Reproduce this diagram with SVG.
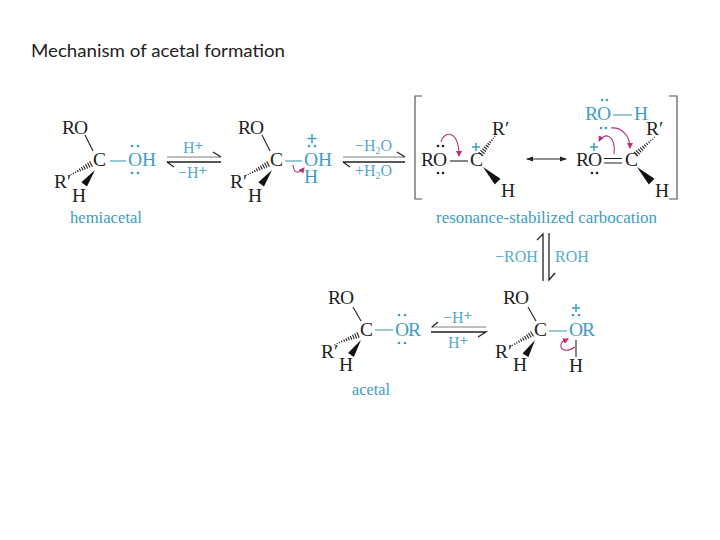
<svg xmlns="http://www.w3.org/2000/svg" width="720" height="540" viewBox="0 0 720 540">
<style>
text{font-family:"Liberation Serif",serif;font-size:19.500px;fill:#222}
.b{fill:#3c9dc4}
.l{font-size:16px;fill:#3c9dc4}
.s{font-size:16px;fill:#56a8c8}
.sup{font-size:15px;font-weight:bold}
.sub{font-size:10px}
.bond{stroke:#222;stroke-width:1.1;fill:none}
.bb{stroke:#3c9dc4;stroke-width:1.1;fill:none}
.plus{stroke:#3c9dc4;stroke-width:1.5;fill:none}
.dot{fill:#3c9dc4}
.k{fill:#222}
.gray{stroke:#aaa;stroke-width:1.6;fill:none}
.blk{stroke:#222;stroke-width:1.3;fill:none}
.cur{stroke:#b8307a;stroke-width:1.1;fill:none;marker-end:url(#c)}
</style>
<defs>
<marker id="c" markerWidth="7" markerHeight="7" refX="5" refY="3" orient="auto" markerUnits="userSpaceOnUse"><path d="M0 0L6 3L0 6Z" fill="#b8307a"/></marker>
<marker id="d" markerWidth="7" markerHeight="6" refX="6" refY="3" orient="auto-start-reverse" markerUnits="userSpaceOnUse"><path d="M0 0.500L7 3L0 5.500Z" fill="#222"/></marker>
<path id="w" d="M0 0L18 -3.500L18 3.500Z" fill="#111"/>
<path id="h" d="M0 -3V3M2.500 -2.700V2.700M5 -2.400V2.400M7.500 -2.100V2.100M10 -1.800V1.800M12.500 -1.500V1.500M15 -1.200V1.200M17.500 -0.900V0.900M20 -0.700V0.700M22.500 -0.500V0.500M25 -0.400V0.400" stroke="#222" stroke-width="1.100" fill="none"/>
</defs>
<text id="title" x="31" y="57" style="font-family:Lato,sans-serif;font-size:18px;fill:#222" textLength="254" lengthAdjust="spacingAndGlyphs">Mechanism of acetal formation</text>

<g id="hemiacetal">
<text x="62" y="134" textLength="26">RO</text><text x="93" y="166">C</text><text x="54" y="188">R′</text><text x="72" y="202">H</text>
<text class="b" x="128" y="166">OH</text>
<path class="bond" d="M85 135L93 151"/><path class="bb" d="M110 161H126"/>
<use href="#h" transform="translate(91 164) rotate(152)"/><use href="#w" transform="translate(95 170) rotate(127)"/>
<circle class="dot" cx="132" cy="146" r="1.300"/><circle class="dot" cx="138" cy="146" r="1.300"/><circle class="dot" cx="132" cy="173" r="1.300"/><circle class="dot" cx="138" cy="173" r="1.300"/>
<text class="l" x="70" y="223" textLength="72" lengthAdjust="spacingAndGlyphs">hemiacetal</text>
</g>

<g id="protonated">
<text x="238" y="134" textLength="26">RO</text><text x="270" y="166">C</text><text x="230" y="188">R′</text><text x="248" y="202">H</text>
<text class="b" x="304" y="166">OH</text><text class="b" x="304" y="183">H</text>
<path class="bond" d="M262 135L270 151"/><path class="bb" d="M285 161H302"/>
<use href="#h" transform="translate(268 164) rotate(152)"/><use href="#w" transform="translate(272 170) rotate(127)"/>
<path class="plus" d="M312 134V143M307.500 138.500H316.500"/>
<circle class="dot" cx="309" cy="146" r="1.300"/><circle class="dot" cx="315" cy="146" r="1.300"/>
<path class="cur" d="M293 165C294 175 300 173 304 168"/>
</g>

<g id="carbocation">
<text x="421" y="166" textLength="26">RO</text><text x="470" y="166">C</text><text x="492" y="135">R′</text><text x="501" y="197">H</text>
<path class="bond" d="M450 161H468"/>
<use href="#h" transform="translate(481 154) rotate(-52)"/><use href="#w" transform="translate(483 167) rotate(45) scale(1.150)"/>
<circle class="k" cx="438" cy="146" r="1.300"/><circle class="k" cx="443" cy="146" r="1.300"/><circle class="k" cx="438" cy="173" r="1.300"/><circle class="k" cx="443" cy="173" r="1.300"/>
<path class="plus" d="M476 143V151M472 147H480"/>
<path class="cur" d="M441 142C444 130 459 130 459 156"/>
</g>

<g id="oxonium">
<text x="576" y="166" textLength="26">RO</text><text x="625" y="166">C</text><text x="646" y="135">R′</text><text x="655" y="197">H</text>
<path class="bond" d="M604 158.500H622M604 163H622"/>
<use href="#h" transform="translate(636 154) rotate(-42)"/><use href="#w" transform="translate(637 167) rotate(45) scale(1.150)"/>
<circle class="k" cx="592" cy="173" r="1.300"/><circle class="k" cx="597" cy="173" r="1.300"/>
<path class="plus" d="M594 143V151M590 147H598"/>
<text class="b" x="585" y="120" textLength="26">RO</text><text class="b" x="634" y="120">H</text>
<path class="bb" d="M613 115H632"/>
<circle class="dot" cx="602" cy="100" r="1.300"/><circle class="dot" cx="607" cy="100" r="1.300"/><circle class="dot" cx="601" cy="128" r="1.300"/><circle class="dot" cx="606" cy="128" r="1.300"/>
<path class="cur" d="M611 128C622 127 630 136 630 148"/>
<path class="cur" d="M614 154C616 134 604 132 599 141"/>
</g>

<g id="brackets">
<path d="M422 96H415V199H422M669 96H677V199H669" fill="none" stroke="#555" stroke-width="1.200"/>
<text class="l" x="436" y="223" textLength="221" lengthAdjust="spacingAndGlyphs">resonance-stabilized carbocation</text>
</g>

<g id="protonated-acetal">
<text x="503" y="304" textLength="26">RO</text><text x="534" y="336">C</text><text x="495" y="358">R′</text><text x="513" y="371">H</text><text x="569" y="372">H</text>
<text class="b" x="569" y="336" textLength="26">OR</text>
<path class="bond" d="M528 307L536 321M576 340V357"/><path class="bb" d="M549 331H567"/>
<use href="#h" transform="translate(532 334) rotate(150)"/><use href="#w" transform="translate(535 340) rotate(122)"/>
<path class="plus" d="M576 304V312M572 308H580"/>
<circle class="dot" cx="573" cy="315" r="1.300"/><circle class="dot" cx="579" cy="315" r="1.300"/>
<path class="cur" d="M575 347C566 353 558 350 562 342L568 339"/>
</g>

<g id="acetal">
<text x="328" y="304" textLength="26">RO</text><text x="360" y="336">C</text><text x="321" y="358">R′</text><text x="339" y="371">H</text>
<text class="b" x="395" y="336" textLength="26">OR</text>
<path class="bond" d="M353 307L361 321"/><path class="bb" d="M375 330H393"/>
<use href="#h" transform="translate(358 335) rotate(158)"/><use href="#w" transform="translate(361 340) rotate(124)"/>
<circle class="dot" cx="399" cy="315" r="1.300"/><circle class="dot" cx="405" cy="315" r="1.300"/><circle class="dot" cx="399" cy="343" r="1.300"/><circle class="dot" cx="405" cy="343" r="1.300"/>
<text class="l" x="352" y="395" textLength="38" lengthAdjust="spacingAndGlyphs">acetal</text>
</g>

<g id="connectors">
<path class="gray" d="M167 157H221"/><path class="blk" d="M213 152L221 157M167 162H221M167 162L174 167"/>
<path class="gray" d="M343 157H405"/><path class="blk" d="M397 152L405 157M343 162H405M343 162L350 167"/>
<path class="bond" d="M527 159H566" marker-start="url(#d)" marker-end="url(#d)"/>
<path class="blk" d="M537 240L543 234V281M549 233V280L555 273"/>
<path class="gray" d="M431 327H486"/><path class="blk" d="M432 327L438 322M431 332H486L478 337"/>
</g>

<g id="labels">
<text class="s" x="183" y="153">H<tspan class="sup" dy="-3">+</tspan></text>
<text class="s" x="178" y="178">−H<tspan class="sup" dy="-3">+</tspan></text>
<text class="s" x="355" y="151">−H<tspan class="sub" dy="3">2</tspan><tspan dy="-3">O</tspan></text>
<text class="s" x="355" y="176">+H<tspan class="sub" dy="3">2</tspan><tspan dy="-3">O</tspan></text>
<text class="s" x="495" y="262">−ROH</text>
<text class="s" x="555" y="262">ROH</text>
<text class="s" x="443" y="323">−H<tspan class="sup" dy="-3">+</tspan></text>
<text class="s" x="448" y="348">H<tspan class="sup" dy="-3">+</tspan></text>
</g>
</svg>
